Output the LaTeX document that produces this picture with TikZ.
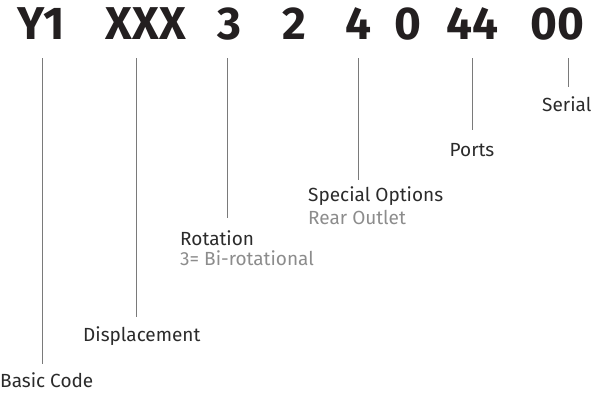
\documentclass[tikz,border=0pt]{standalone}
\usepackage{fontspec}
\setmainfont{Fira Sans}
\usepackage{tikz}
\usetikzlibrary{positioning}

\definecolor{codeink}{HTML}{231F20}
\definecolor{labelink}{HTML}{2B2B2B}
\definecolor{noteink}{HTML}{8C8C8C}
\definecolor{leadgray}{HTML}{7A7A7A}

\begin{document}
\begin{tikzpicture}[
  x=1pt, y=-1pt,
  code/.style={anchor=base, inner sep=0pt, text=codeink,
               font=\fontsize{46}{46}\selectfont\bfseries},
  lbl/.style={anchor=base west, inner sep=0pt, text=labelink,
              font=\fontsize{19}{22}\selectfont},
  note/.style={anchor=base west, inner sep=0pt, text=noteink,
               font=\fontsize{19}{22}\selectfont},
  lead/.style={draw=leadgray, line width=0.9pt}
]
\useasboundingbox (0,0) rectangle (609,396);

% the type code
\node[code] (y1)   at (41,40)  {Y1};
\node[code] (xxx)  at (146,40) {XXX};
\node[code] (rot)  at (229,40) {3};
\node[code] (two)  at (294,40) {2};
\node[code] (opt)  at (358,40) {4};
\node[code] (zero) at (408,40) {0};
\node[code] (prt)  at (472,40) {44};
\node[code] (ser)  at (557,40) {00};

% labels
\node[lbl] (basic) at (0,387) {Basic Code};
\node[lbl] (displ)  at (83,341)  {Displacement};
\node[lbl] (rotlbl) at (180,245) {Rotation};
\node[note, below=5pt of rotlbl.south west, anchor=north west] (rotnote)
  {3= Bi-rotational};
\node[lbl] (optlbl) at (308,201) {Special Options};
\node[note, below=5pt of optlbl.south west, anchor=north west] (optnote)
  {Rear Outlet};
\node[lbl, anchor=base] (prtlbl) at (472,156) {Ports};
\node[lbl] (serlbl) at (542,111) {Serial};

% leader lines
\coordinate (t1) at (42,58);  \coordinate (b1) at (42,364);
\coordinate (t2) at (136,58); \coordinate (b2) at (136,317);
\coordinate (t3) at (227,58); \coordinate (b3) at (227,218);
\coordinate (t4) at (358,58); \coordinate (b4) at (358,180);
\coordinate (t5) at (472,58); \coordinate (b5) at (472,130);
\coordinate (t6) at (568,58); \coordinate (b6) at (568,87);
\foreach \i in {1,...,6}
  \draw[lead] (t\i) -- (b\i);
\end{tikzpicture}
\end{document}
